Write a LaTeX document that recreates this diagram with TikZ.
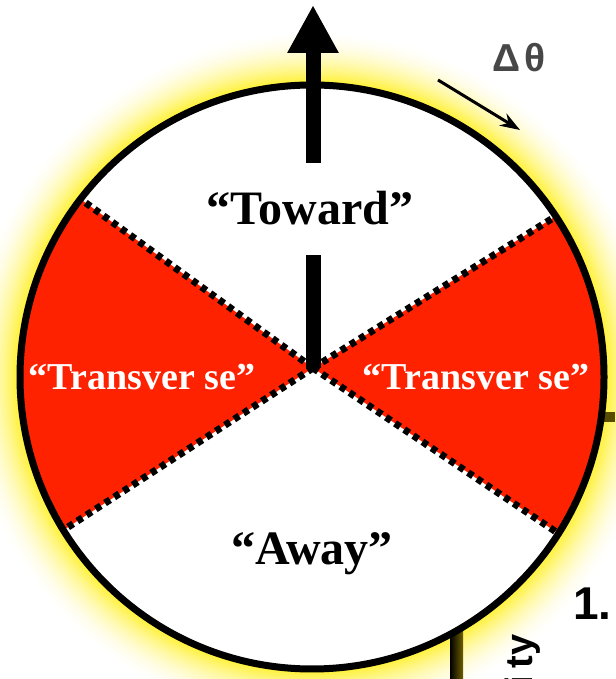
\documentclass[tikz,border=0pt]{standalone}
\usepackage{fontspec}
\setmainfont{Liberation Serif}
\setsansfont{Liberation Sans}
\usepackage{xcolor}
\usepackage{tikz}
\usetikzlibrary{arrows.meta}
\usetikzlibrary{backgrounds}
\pgfdeclarelayer{edgelayer}
\pgfdeclarelayer{nodelayer}
\pgfsetlayers{background,edgelayer,nodelayer,main}
\definecolor{wedgered}{RGB}{255,34,0}
\definecolor{glowyellow}{RGB}{255,240,40}
\definecolor{barolive}{RGB}{110,95,0}
\tikzstyle{every picture}=[x=1pt,y=1pt]
\tikzstyle{rim}=[line width=7pt,draw=black]
\tikzstyle{cut}=[line width=7pt,draw=black,dash pattern=on 6pt off 5pt]
\tikzstyle{big arrow}=[line width=15pt,-{Triangle[length=48pt,width=48pt]}]
\tikzstyle{thin arrow}=[line width=3pt,-{Stealth[length=20pt,width=14pt]}]
\tikzstyle{dark label}=[inner sep=0pt,text=black,font=\bfseries\fontsize{48}{50}\selectfont]
\tikzstyle{red label}=[inner sep=0pt,text=white,font=\bfseries\fontsize{38}{40}\selectfont]
\tikzstyle{greek}=[inner sep=0pt,text=black!72,font=\sffamily\bfseries\fontsize{39}{40}\selectfont]
\tikzstyle{cut text}=[inner sep=0pt,text=black,font=\sffamily\bfseries\fontsize{46}{48}\selectfont]

\begin{document}
\begin{tikzpicture}
	\useasboundingbox (0, 0) rectangle (615, 679);
	\coordinate (c) at (312, 302);
	\coordinate (o) at (313, 311);
	\coordinate (tip) at (313, 674);
	\coordinate (d1) at (438, 599);
	\coordinate (d2) at (520, 549);
	\begin{pgfonlayer}{background}
		% glow round the disc
		\foreach \k [evaluate=\k as \p using int(\k*\k/8)] in {0,...,28}
			\fill[glowyellow!\p!white] (c) circle (350-2*\k);
		\fill[barolive!80!black] (603, 257) rectangle (615, 267);
		\shade[left color=black, right color=barolive] (450, 0) rectangle (463, 60);
		\fill[white] (c) circle (292);
		\begin{scope}
			\clip (c) circle (292);
			\fill[wedgered] (o) -- +(144:400) -- +(180:400) -- +(213:400) -- cycle;
			\fill[wedgered] (o) -- +(-34:400) -- +(0:400) -- +(32:400) -- cycle;
			\foreach \a in {144, 213, -34, 32}
				\draw[style=cut] (o) -- +(\a:400);
		\end{scope}
		\draw[style=rim] (c) circle (292);
	\end{pgfonlayer}
	\begin{pgfonlayer}{edgelayer}
		\draw[style=big arrow] (o) to (tip);
		\draw[style=thin arrow] (d1) to (d2);
	\end{pgfonlayer}
	\begin{pgfonlayer}{nodelayer}
		\node [style=dark label, fill=white, inner xsep=4pt, minimum height=92pt, anchor=base] (toward) at (310, 454) {“Toward”};
		\node [style=dark label, anchor=base] (away) at (312, 114) {“Away”};
		\node [style=red label, anchor=base] (left) at (142, 289) {“Transver se”};
		\node [style=red label, anchor=base] (right) at (476, 289) {“Transver se”};
		\node [style=greek] (dtheta) at (519, 621) {Δ\kern4ptθ};
		\node [style=cut text, anchor=base west] (one) at (573, 59) {1.};
		\node [style=cut text, font=\sffamily\bfseries\fontsize{38}{40}\selectfont, rotate=90, anchor=base east] (ity) at (532, 45) {i\kern8pt ty};
	\end{pgfonlayer}
\end{tikzpicture}
\end{document}
